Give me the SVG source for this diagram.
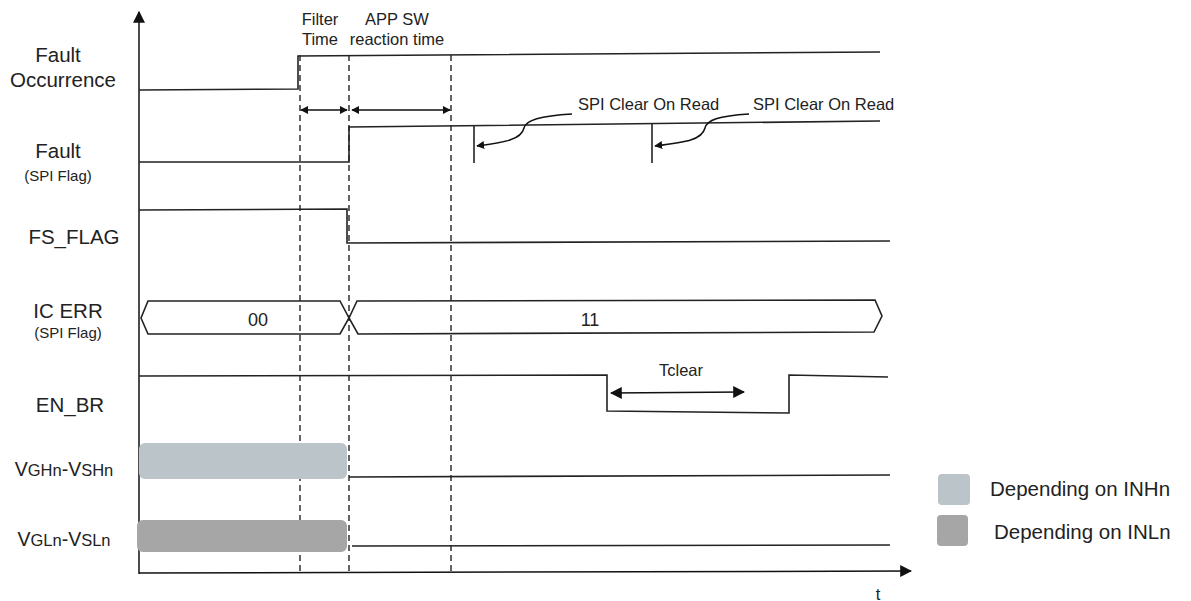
<svg xmlns="http://www.w3.org/2000/svg" width="1191" height="601" viewBox="0 0 1191 601">
<style>
text{font-family:"Liberation Sans",Arial,sans-serif;fill:#222}
.lbl{font-size:20.5px;text-anchor:middle}
.sub{font-size:15px;text-anchor:middle}
.hdr{font-size:16.5px;text-anchor:middle}
.note{font-size:16.5px}
.leg{font-size:20.5px}
.sig{fill:none;stroke:#222;stroke-width:1.6}
.dash{fill:none;stroke:#222;stroke-width:1.4;stroke-dasharray:6,4}
.arr{fill:none;stroke:#111;stroke-width:1.5}
</style>
<defs>
<marker id="ah" viewBox="0 0 10 10" refX="9" refY="5" markerWidth="8" markerHeight="8" orient="auto-start-reverse" markerUnits="userSpaceOnUse"><path d="M0,0 L10,5 L0,10 z" fill="#111"/></marker>
<marker id="ahb" viewBox="0 0 10 10" refX="9" refY="5" markerWidth="12" markerHeight="12" orient="auto-start-reverse" markerUnits="userSpaceOnUse"><path d="M0,0 L10,5 L0,10 z" fill="#111"/></marker>
</defs>
<rect width="1191" height="601" fill="#fff"/>
<g id="axes">
<line x1="139" y1="574" x2="139" y2="12" class="arr" stroke-width="2" marker-end="url(#ahb)"/>
<line x1="139" y1="573" x2="911" y2="571" class="arr" stroke-width="2" marker-end="url(#ahb)"/>
<text x="878" y="600" class="hdr">t</text>
</g>
<g id="labels">
<text x="58" y="62" class="lbl">Fault</text>
<text x="63" y="87" class="lbl">Occurrence</text>
<text x="58" y="158" class="lbl">Fault</text>
<text x="58" y="181" class="sub">(SPI Flag)</text>
<text x="74" y="244" class="lbl">FS_FLAG</text>
<text x="68" y="318" class="lbl">IC ERR</text>
<text x="68" y="338" class="sub">(SPI Flag)</text>
<text x="70" y="412" class="lbl">EN_BR</text>
<text x="64" y="476" class="lbl" style="font-size:19.5px">V<tspan style="font-size:16.5px">GHn</tspan>-V<tspan style="font-size:16.5px">SHn</tspan></text>
<text x="64" y="546" class="lbl" style="font-size:19.5px">V<tspan style="font-size:16.5px">GLn</tspan>-V<tspan style="font-size:16.5px">SLn</tspan></text>
<text x="320" y="25" class="hdr">Filter</text>
<text x="320" y="45" class="hdr">Time</text>
<text x="397" y="25" class="hdr">APP SW</text>
<text x="397" y="45" class="hdr">reaction time</text>
</g>
<g id="guides">
<line x1="300" y1="55" x2="300" y2="572" class="dash"/>
<line x1="349" y1="55" x2="349" y2="572" class="dash"/>
<line x1="451" y1="55" x2="451" y2="572" class="dash"/>
</g>
<g id="fault-occurrence">
<polyline points="139,90 298,89 298,56 880,52" class="sig"/>
</g>
<g id="timing-arrows">
<line x1="301" y1="110" x2="347" y2="110" class="arr" marker-start="url(#ah)" marker-end="url(#ah)"/>
<line x1="352" y1="110" x2="450" y2="110" class="arr" marker-start="url(#ah)" marker-end="url(#ah)"/>
</g>
<g id="fault-spi">
<polyline points="139,162 349,162 349,127 880,121" class="sig"/>
<line x1="474" y1="126" x2="474" y2="163" class="sig"/>
<line x1="652" y1="124" x2="652" y2="163" class="sig"/>
<path d="M572,114 C540,116 526,120 524,128 C521,140 505,142 477,146" class="arr" marker-end="url(#ah)"/>
<path d="M749,114 C718,116 707,120 705,128 C702,140 686,142 655,146" class="arr" marker-end="url(#ah)"/>
<text x="578" y="110" class="note">SPI Clear On Read</text>
<text x="753" y="110" class="note">SPI Clear On Read</text>
</g>
<g id="fs-flag">
<polyline points="139,210 347,209 347,243 890,241" class="sig"/>
</g>
<g id="ic-err">
<polygon points="141,318 148,301 340,301 349,318 340,334 148,334" class="sig"/>
<polygon points="349,318 357,301 875,300 882,316 874,332 358,334" class="sig"/>
<text x="258" y="326" class="lbl" style="font-size:18px">00</text>
<text x="590" y="326" class="lbl" style="font-size:18px">11</text>
</g>
<g id="en-br">
<polyline points="139,376 607,375 607,411 789,413 789,375 888,377" class="sig"/>
<line x1="611" y1="393" x2="744" y2="392" class="arr" marker-start="url(#ahb)" marker-end="url(#ahb)"/>
<text x="681" y="376" class="note" text-anchor="middle">Tclear</text>
</g>
<g id="vgh">
<rect x="139" y="443" width="208" height="36" rx="6" fill="#bac4c9"/>
<line x1="349" y1="477" x2="890" y2="475" class="sig"/>
</g>
<g id="vgl">
<rect x="137" y="520" width="210" height="32" rx="6" fill="#a6a6a6"/>
<line x1="352" y1="546" x2="890" y2="545" class="sig"/>
</g>
<g id="legend">
<rect x="938" y="474" width="32" height="31" rx="4" fill="#bac4c9"/>
<text x="990" y="496" class="leg">Depending on INHn</text>
<rect x="937" y="515" width="31" height="31" rx="4" fill="#a6a6a6"/>
<text x="994" y="539" class="leg">Depending on INLn</text>
</g>
</svg>
